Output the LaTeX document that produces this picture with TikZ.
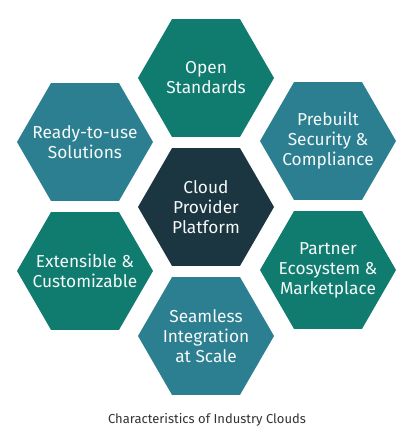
\documentclass[tikz,border=0pt]{standalone}
\usepackage{fontspec}
\setmainfont{Fira Sans}
\definecolor{hgreen}{HTML}{107C6F}
\definecolor{hblue}{HTML}{2C7F90}
\definecolor{hdark}{HTML}{1B3541}
\definecolor{htext}{HTML}{F5F9F9}
\definecolor{captext}{HTML}{333333}
\newcommand\hexshape[3]{%
  \fill[#3] (#1) +(0:#2) -- +(60:#2) -- +(120:#2) -- +(180:#2) -- +(240:#2) -- +(300:#2) -- cycle;}
\begin{document}
\begin{tikzpicture}[x=1pt,y=-1pt,
  hexlabel/.style={text=htext,align=center,font=\fontsize{17.3}{20}\selectfont,inner sep=0pt},
  caption/.style={text=captext,font=\fontsize{13}{15}\selectfont,inner sep=0pt}]
\useasboundingbox[fill=white] (0,0) rectangle (413,432);
\coordinate (ctop) at (206,78);
\coordinate (ccen) at (206,207);
\coordinate (cbot) at (206,336);
\coordinate (cul) at (85,142);
\coordinate (cll) at (85,271);
\coordinate (cur) at (328,141);
\coordinate (clr) at (328,270);
\hexshape{ctop}{68}{hgreen}
\hexshape{ccen}{68}{hdark}
\hexshape{cbot}{68}{hblue}
\hexshape{cul}{68}{hblue}
\hexshape{cll}{68}{hgreen}
\hexshape{cur}{68}{hblue}
\hexshape{clr}{68}{hgreen}
\node[hexlabel] (ttop) at (ctop) {Open\\Standards};
\node[hexlabel] (tcen) at (ccen) {Cloud\\Provider\\Platform};
\node[hexlabel] (tbot) at (cbot) {Seamless\\Integration\\at Scale};
\node[hexlabel] (tul) at (cul) {Ready-to-use\\Solutions};
\node[hexlabel] (tll) at (cll) {Extensible \&\\Customizable};
\node[hexlabel] (tur) at (cur) {Prebuilt\\Security \&\\Compliance};
\node[hexlabel] (tlr) at (clr) {Partner\\Ecosystem \&\\Marketplace};
\node[caption] (cap) at (207,420) {Characteristics of Industry Clouds};
\end{tikzpicture}
\end{document}
